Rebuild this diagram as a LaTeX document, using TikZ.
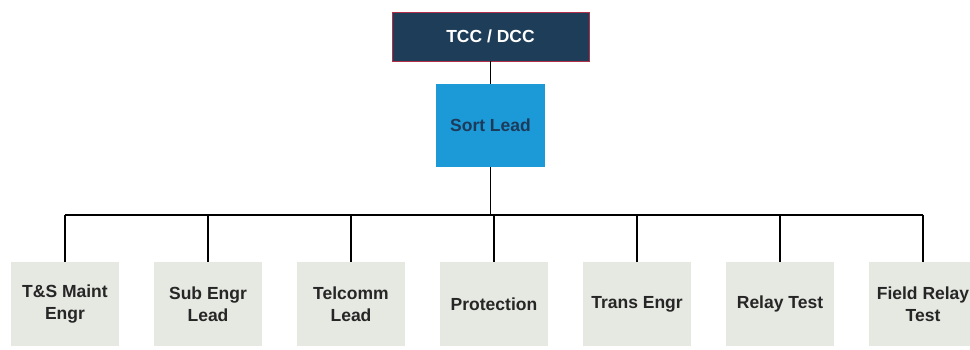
\documentclass[tikz,border=0pt]{standalone}
\usepackage{fontspec}
\setmainfont{Liberation Sans}
\definecolor{navy}{HTML}{1E3D58}
\definecolor{skyblue}{HTML}{1B9AD7}
\definecolor{leadtext}{HTML}{1E3A5A}
\definecolor{boxgrey}{HTML}{E6E9E2}
\definecolor{rimred}{HTML}{B0304A}
\begin{document}
\begin{tikzpicture}[x=1pt,y=-1pt,
  topbox/.style={draw=rimred,line width=0.8pt,fill=navy,text=white,minimum width=197pt,minimum height=49pt,font=\fontsize{17.5}{21}\selectfont\bfseries},
  leadbox/.style={fill=skyblue,text=leadtext,minimum width=109pt,minimum height=83pt,font=\fontsize{17.5}{21}\selectfont\bfseries},
  unitbox/.style={fill=boxgrey,text=black!85,minimum width=108pt,minimum height=84pt,align=center,font=\fontsize{17.5}{22}\selectfont\bfseries},
  link/.style={draw=black,line width=1.4pt}]
\useasboundingbox (0,0) rectangle (970,350);
\node[topbox] (tcc) at (490.5,36.5) {TCC / DCC};
\node[leadbox] (sort) at (490.5,125.5) {Sort Lead};
\node[unitbox] (u1) at (65,304) {T\&S Maint\\Engr};
\node[unitbox] (u2) at (208,304) {Sub Engr\\Lead};
\node[unitbox] (u3) at (351,304) {Telcomm\\Lead};
\node[unitbox] (u4) at (494,304) {Protection};
\node[unitbox] (u5) at (637,304) {Trans Engr};
\node[unitbox] (u6) at (780,304) {Relay Test};
\node[unitbox] (u7) at (923,304) {Field Relay\\Test};
\coordinate (bus) at (490.5,215);
\draw[link] (tcc.south) -- (sort.north);
\draw[link] (sort.south) -- (bus);
\draw[link] (u1.north |- bus) -- (u7.north |- bus);
\foreach \u in {u1,u2,u3,u4,u5,u6,u7}
  \draw[link] (\u.north |- bus) -- (\u.north);
\end{tikzpicture}
\end{document}
